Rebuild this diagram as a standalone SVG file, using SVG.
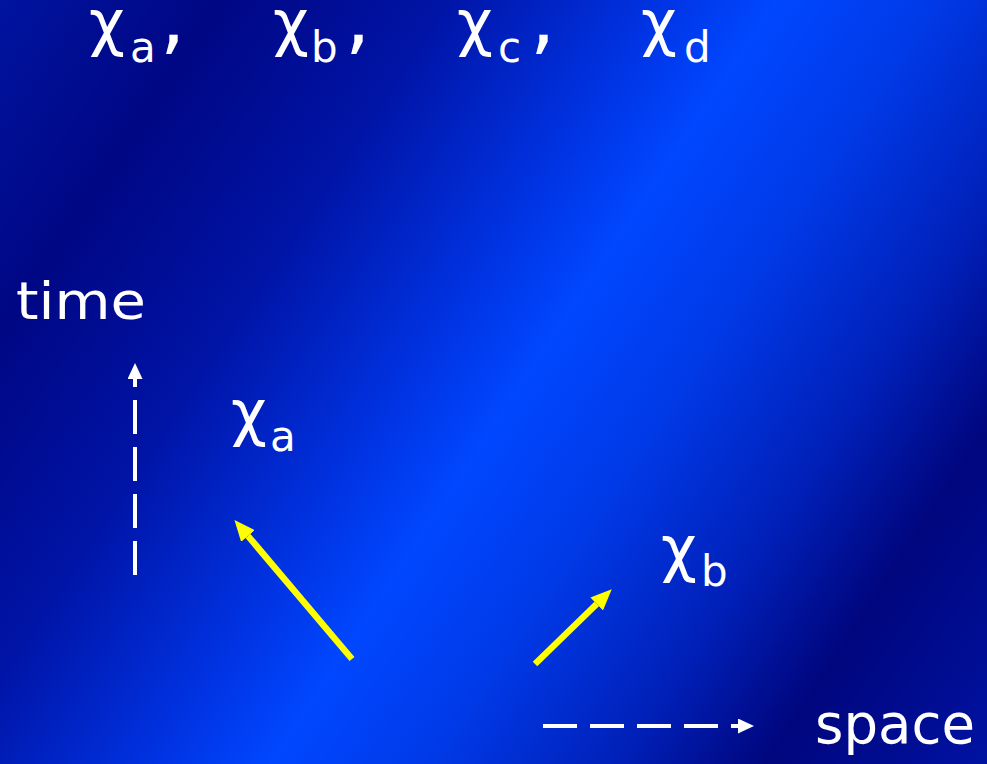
<svg xmlns="http://www.w3.org/2000/svg" width="987" height="764" viewBox="0 0 987 764">
  <defs>
    <linearGradient id="bg" gradientUnits="userSpaceOnUse" x1="0" y1="0" x2="1028" y2="681">
      <stop offset="0" stop-color="#0014a0"/>
      <stop offset="0.15" stop-color="#000784"/>
      <stop offset="0.3" stop-color="#0014a6"/>
      <stop offset="0.45" stop-color="#0034e4"/>
      <stop offset="0.525" stop-color="#0047ff"/>
      <stop offset="0.63" stop-color="#003ae8"/>
      <stop offset="0.76" stop-color="#0020b8"/>
      <stop offset="0.86" stop-color="#00067e"/>
      <stop offset="1" stop-color="#0012a0"/>
    </linearGradient>
    <marker id="headY" markerUnits="userSpaceOnUse" markerWidth="22" markerHeight="18" refX="0" refY="9" orient="auto">
      <path d="M0,0 L21,9 L0,18 z" fill="#ffff00"/>
    </marker>
    <marker id="headW" markerUnits="userSpaceOnUse" markerWidth="17" markerHeight="15" refX="0" refY="7.5" orient="auto">
      <path d="M0,0 L16,7.5 L0,15 z" fill="#ffffff"/>
    </marker>
    <style>
      .chi { font-family: "DejaVu Sans", sans-serif; font-size: 62px; fill: #ffffff; }
      .sub { font-family: "DejaVu Sans", sans-serif; font-size: 42px; fill: #ffffff; }
      .com { font-family: "DejaVu Sans", sans-serif; font-size: 80px; fill: #ffffff; }
      .lbl { font-family: "DejaVu Sans", sans-serif; fill: #ffffff; }
      .yel { stroke: #ffff00; stroke-width: 6.5; fill: none; marker-end: url(#headY); }
      .axis { stroke: #ffffff; stroke-width: 4; fill: none; stroke-dasharray: 34 13; marker-end: url(#headW); }
    </style>
  </defs>

  <rect x="0" y="0" width="987" height="764" fill="url(#bg)"/>

  <g id="title-list">
    <g id="chi-a-top">
      <text class="chi" x="89" y="44">χ</text>
      <text class="sub" x="130" y="62">a</text>
      <text class="com" x="160" y="45">,</text>
    </g>
    <g id="chi-b-top">
      <text class="chi" x="273" y="44">χ</text>
      <text class="sub" x="311" y="62">b</text>
      <text class="com" x="345" y="45">,</text>
    </g>
    <g id="chi-c-top">
      <text class="chi" x="457" y="44">χ</text>
      <text class="sub" x="498" y="62">c</text>
      <text class="com" x="530" y="45">,</text>
    </g>
    <g id="chi-d-top">
      <text class="chi" x="641" y="44">χ</text>
      <text class="sub" x="684" y="62">d</text>
    </g>
  </g>

  <g id="label-time">
    <text class="lbl" x="16" y="319" font-size="52" textLength="130" lengthAdjust="spacingAndGlyphs">time</text>
  </g>

  <g id="label-space">
    <text class="lbl" x="815" y="743" font-size="56" textLength="160" lengthAdjust="spacingAndGlyphs">space</text>
  </g>

  <g id="particle-a">
    <text class="chi" x="231" y="434">χ</text>
    <text class="sub" x="270" y="451">a</text>
  </g>

  <g id="particle-b">
    <text class="chi" x="661" y="570">χ</text>
    <text class="sub" x="701" y="586">b</text>
  </g>

  <g id="connectors">
    <line class="yel" x1="352" y1="659" x2="248" y2="536"/>
    <line class="yel" x1="535" y1="664" x2="596.7" y2="604"/>
    <line class="axis" x1="135" y1="575" x2="135" y2="379"/>
    <line class="axis" x1="543" y1="726" x2="738" y2="726"/>
  </g>
</svg>
